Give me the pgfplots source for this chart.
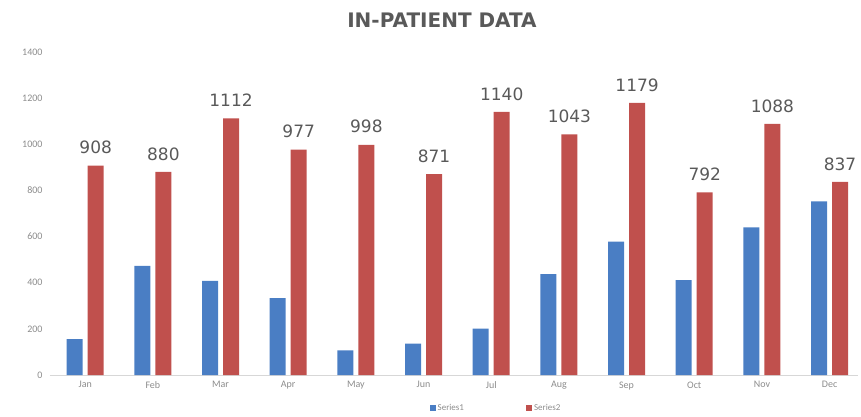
\documentclass[border=0pt]{standalone}
\usepackage{fontspec}
\setmainfont{Carlito}
\newfontfamily\labfont{DejaVu Sans}
\usepackage{pgfplots}
\pgfplotsset{compat=1.18}
\definecolor{sblue}{HTML}{4A7EC4}
\definecolor{sred}{HTML}{C0504D}
\definecolor{tgray}{HTML}{8C8C8C}
\definecolor{lgray}{HTML}{595959}
\begin{document}
\begin{tikzpicture}[x=1pt,y=1pt]
\path[use as bounding box] (0,0) rectangle (861,416);
\node[font=\labfont\bfseries\fontsize{20}{21}\selectfont, text=lgray] at (442,396) {IN-PATIENT DATA};
\begin{axis}[
  at={(50pt,41pt)}, anchor=south west, scale only axis,
  width=808pt, height=323pt,
  ybar=5pt, bar width=16pt,
  xmin=-0.52, xmax=11.42, ymin=0, ymax=1400,
  xtick={0,...,11},
  xticklabels={Jan,Feb,Mar,Apr,May,Jun,Jul,Aug,Sep,Oct,Nov,Dec},
  ytick={0,200,...,1400},
  axis x line*=bottom, axis y line*=left,
  y axis line style={draw=none},
  x axis line style={draw=tgray!35, line width=0.8pt},
  major tick length=0pt,
  tick label style={font=\fontsize{10}{11}\selectfont, text=tgray},
  yticklabel style={xshift=-4pt},
  xticklabel style={yshift=-3pt},
  /pgf/number format/assume math mode=true,
  /pgf/number format/1000 sep={},
  legend style={at={(0.552,-0.102)}, anchor=center, draw=none, fill=none,
    legend columns=2, font=\fontsize{9}{10}\selectfont, text=tgray,
    /tikz/every even column/.append style={column sep=60pt}},
  legend image code/.code={\fill[#1] (0pt,-3pt) rectangle (6pt,3pt);},
]
\addplot[fill=sblue, draw=none] coordinates {
(0,155) (1,473) (2,408) (3,333) (4,107) (5,136) (6,201) (7,437) (8,578) (9,411) (10,640) (11,753)};
\addlegendentry{Series1}
\addplot[fill=sred, draw=none, nodes near coords,
  every node near coord/.append style={font=\labfont\fontsize{17}{17}\selectfont, text=lgray, anchor=south, yshift=8pt}]
 coordinates {
(0,908) (1,880) (2,1112) (3,977) (4,998) (5,871) (6,1140) (7,1043) (8,1179) (9,792) (10,1088) (11,837)};
\addlegendentry{Series2}
\end{axis}
\end{tikzpicture}
\end{document}
